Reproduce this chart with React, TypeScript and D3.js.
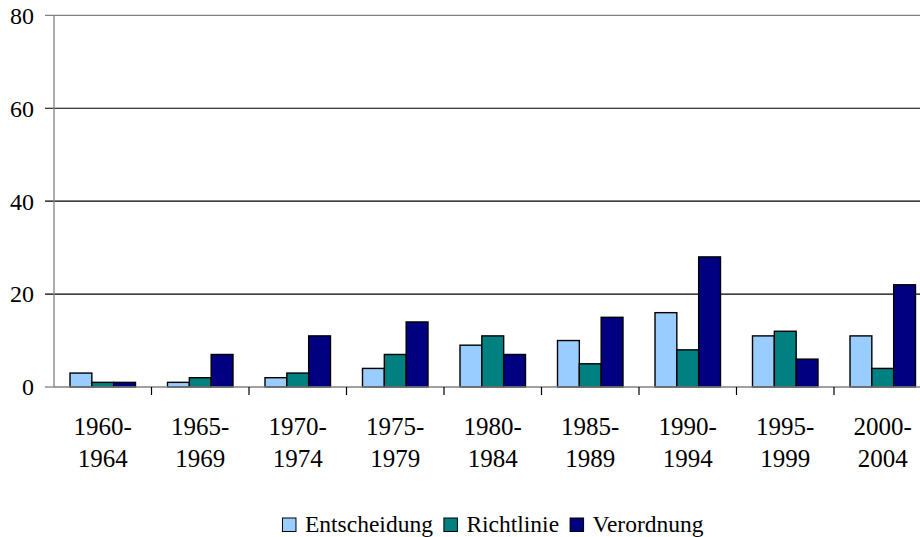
import React from 'react';
import { scaleBand, scaleLinear } from 'd3';

const width = 920;
const height = 537;
const margin = { left: 54, top: 15.3 };
const plotRight = 931.5; // plot runs a bit past the window edge
const baseY = 387;

const categories = [
    ['1960-', '1964'], ['1965-', '1969'], ['1970-', '1974'], ['1975-', '1979'], ['1980-', '1984'],
    ['1985-', '1989'], ['1990-', '1994'], ['1995-', '1999'], ['2000-', '2004'],
];
const seriesNames = ['Entscheidung', 'Richtlinie', 'Verordnung'];
const entscheidung = [3, 1, 2, 4, 9, 10, 16, 11, 11];
const richtlinie = [1, 2, 3, 7, 11, 5, 8, 12, 4];
const verordnung = [1, 7, 11, 14, 7, 15, 28, 6, 22];
const yTicks = [0, 20, 40, 60, 80];

const colors = ['#99CCFF', '#008080', '#000080'];
const fontFamily = '"Liberation Serif"';
const legendFontSize = 23.5;
const boxSize = 13.5;

const measure = (txt, size) => {
    const ctx = document.createElement('canvas').getContext('2d');
    ctx.font = `${size}px "Liberation Serif"`;
    return ctx.measureText(txt).width;
};

const App = () => {
    const series = [entscheidung, richtlinie, verordnung];
    const keys = categories.map(c => c.join(''));

    const x = scaleBand().domain(keys).range([margin.left, plotRight]);
    const inner = scaleBand().domain(seriesNames).range([16, x.bandwidth() - 16]);
    const y = scaleLinear().domain([0, 80]).range([baseY, margin.top]);

    // legend layout: box, gap 9, text, gap 11
    let offset = 0;
    const legendPos = seriesNames.map(name => {
        const p = offset;
        offset += boxSize + 9 + measure(name, legendFontSize) + 11;
        return p;
    });
    const legendStart = 493 - (offset - 11) / 2;

    return (
        <svg
            width={width}
            height={height}
            style={{ position: 'absolute', left: 0, top: 0, background: '#fff' }}
        >
            {/* gridlines */}
            {yTicks.filter(t => t > 0).map(t => (
                <line key={t} x1={45} x2={width} y1={y(t)} y2={y(t)}
                    stroke={t === 80 ? '#808080' : '#000'} strokeWidth={1.2} />
            ))}
            <line x1={45} x2={margin.left} y1={baseY} y2={baseY} stroke="#808080" strokeWidth={1.3} />
            {yTicks.map(t => (
                <text key={t} x={34} y={y(t)} dy="0.35em" textAnchor="end" fontSize={24}
                    style={{ fontFamily }}>{t}</text>
            ))}

            {/* bars */}
            {keys.map((k, i) => (
                <g key={k} transform={`translate(${x(k)}, 0)`}>
                    {series.map((s, j) => (
                        <rect key={j}
                            x={inner(seriesNames[j])}
                            width={inner.bandwidth()}
                            y={y(s[i])}
                            height={baseY - y(s[i])}
                            fill={colors[j]}
                            stroke="#000"
                            strokeWidth={1.4} />
                    ))}
                </g>
            ))}

            {/* axes */}
            <line x1={margin.left} x2={margin.left} y1={margin.top} y2={baseY} stroke="#808080" strokeWidth={1.3} />
            <line x1={margin.left} x2={width} y1={baseY} y2={baseY} stroke="#808080" strokeWidth={1.3} />
            {keys.map(k => (
                <line key={k} x1={x(k) + x.bandwidth()} x2={x(k) + x.bandwidth()}
                    y1={baseY} y2={baseY + 8} stroke="#000" strokeWidth={1.2} />
            ))}

            {/* category labels */}
            {categories.map((c, i) => {
                const cx = x(keys[i]) + x.bandwidth() / 2;
                return (
                    <text key={keys[i]} textAnchor="middle" fontSize={25} style={{ fontFamily }}>
                        <tspan x={cx} y={434.5}>{c[0]}</tspan>
                        <tspan x={cx} y={467}>{c[1]}</tspan>
                    </text>
                );
            })}

            {/* legend */}
            {seriesNames.map((name, i) => (
                <g key={name} transform={`translate(${legendStart + legendPos[i]}, 0)`}>
                    <rect y={518} width={boxSize} height={boxSize} fill={colors[i]} stroke="#000" strokeWidth={1} />
                    <text x={boxSize + 9} y={532} fontSize={legendFontSize} style={{ fontFamily }}>{name}</text>
                </g>
            ))}
        </svg>
    );
};

export default App;
